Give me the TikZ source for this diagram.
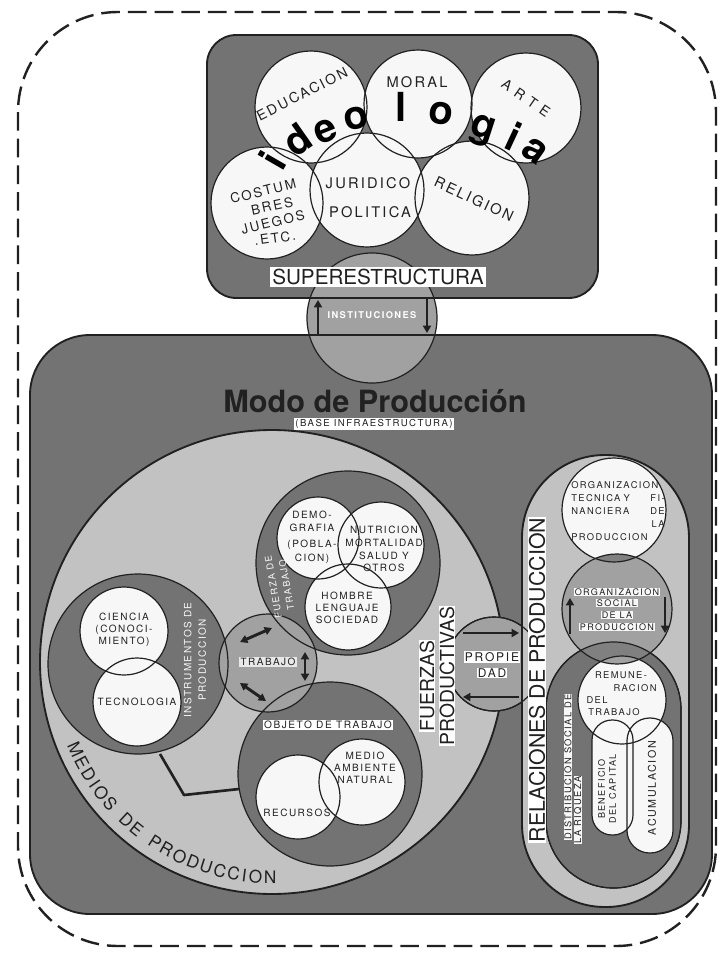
\documentclass[tikz,border=0pt]{standalone}
\usepackage{fontspec}
\setmainfont{TeX Gyre Heros}
\newfontfamily\spf[LetterSpace=15]{TeX Gyre Heros}
\usetikzlibrary{arrows.meta}
\definecolor{hatch}{gray}{0.45}
\definecolor{stip}{gray}{0.76}
\definecolor{midg}{gray}{0.63}
\definecolor{paper}{gray}{0.97}
\definecolor{ink}{gray}{0.13}
\definecolor{lensg}{gray}{0.5}
\begin{document}
\begin{tikzpicture}[x=0.75pt,y=-0.75pt,line join=round,
  ol/.style={draw=ink,line width=0.9pt},
  bol/.style={draw=ink,line width=1.4pt},
  sm/.style={text=ink,align=center,inner sep=0.5pt,font=\spf\fontsize{7.5}{10}\selectfont},
  md/.style={text=ink,align=center,inner sep=0.3pt,font=\spf\fontsize{10.5}{11.3}\selectfont},
  wb/.style={fill=white},
  mytri/.tip={Triangle[length=5.5pt,width=6pt]},
  sar/.style={draw=ink,line width=2.2pt,-mytri},
  dar/.style={draw=ink,line width=2.2pt,mytri-mytri},
  ideo/.style={text=black,inner sep=0pt,font=\bfseries\fontsize{30}{30}\selectfont},
  mletter/.style={text=ink,inner sep=0pt,font=\fontsize{13}{13}\selectfont}
]
\useasboundingbox (0,0) rectangle (720,960);
\fill[white] (0,0) rectangle (720,960);
% outer dashed frame
\draw[ink,line width=1.8pt,dash pattern=on 14pt off 6pt,rounded corners=75pt] (18,12) rectangle (716,946);

% ---------- superstructure ----------
\filldraw[fill=hatch,bol,rounded corners=22pt] (207,35) rectangle (598,298);
\foreach \n/\x/\y in {EDU/311/107,MOR/418/104,ART/526/108,COS/267/203,JUR/367/190,REL/472/198}
  \coordinate (\n) at (\x,\y);
\foreach \n/\r in {EDU/56,MOR/54,ART/55,COS/56,JUR/57,REL/57}
  \fill[paper] (\n) circle[radius=\r];
\foreach \n/\r in {EDU/56,MOR/54,ART/55,COS/56,JUR/57,REL/57}
  \draw[ol] (\n) circle[radius=\r];
\foreach \l/\x/\y/\a in {i/272/160/60,d/297/140/35,e/326/131/22,o/356/118/12,l/401/107/0,o/441/114/-8,g/482/131/-18,i/514/136/-25,a/535/151/-35}
  \node[ideo,rotate=\a] at (\x,\y) {\l};
\node[md,rotate=27] (tedu) at (302,94) {EDUCACION};
\node[md,font=\spf\fontsize{11}{12}\selectfont] (tmor) at (417,82) {MORAL};
\node[md,rotate=-35] (tart) at (526,98) {A R T E};
\node[md,rotate=14,font=\spf\fontsize{10}{11}\selectfont] (tcos1) at (263,191) {COSTUM};
\node[md,rotate=12,font=\spf\fontsize{10}{11}\selectfont] (tcos2) at (272,206) {BRES};
\node[md,rotate=14,font=\spf\fontsize{10}{11}\selectfont] (tcos3) at (273,222) {JUEGOS};
\node[md,rotate=8,font=\spf\fontsize{10}{11}\selectfont] (tcos4) at (275,238) {.ETC.};
\node[md,font=\spf\fontsize{11}{12}\selectfont] (tjur) at (368,183) {JURIDICO};
\node[md,font=\spf\fontsize{11}{12}\selectfont] (tpol) at (370,212) {POLITICA};
\node[md,rotate=-25,font=\spf\fontsize{11}{12}\selectfont] (trel) at (474,199) {RELIGION};

% ---------- modo de produccion box ----------
\filldraw[fill=hatch,bol,rounded corners=45pt] (30,335) rectangle (712,914);

% instituciones
\coordinate (INS) at (372,318);
\filldraw[fill=midg,ol] (INS) circle[radius=65];
\draw[bol] (310,298) -- (434,298);
\draw[bol] (309,335) -- (435,335);
\draw[sar] (318,335) -- (318,300);
\draw[sar] (427,298) -- (427,333);
\node[text=white,inner sep=0.5pt,font=\spf\bfseries\fontsize{7}{8}\selectfont] (tins) at (372,315) {INSTITUCIONES};
\node[wb,inner sep=1.5pt,text=ink,font=\fontsize{15.5}{16}\selectfont] (tsup) at (378,277) {SUPERESTRUCTURA};

\node[text=ink,inner sep=0pt,font=\bfseries\fontsize{23}{25}\selectfont] (tmodo) at (375,401) {Modo de Producción};
\node[wb,inner sep=0.8pt,text=ink,font=\spf\fontsize{7.2}{8}\selectfont] (tbase) at (374,424) {(BASE INFRAESTRUCTURA)};

% ---------- fuerzas productivas ----------
\coordinate (FP) at (272,662);
\filldraw[fill=stip,bol] (FP) circle[radius=232];

% propiedad and relaciones pill
\coordinate (PRO) at (494,664);
\filldraw[fill=midg,ol] (PRO) circle[radius=47];
\filldraw[fill=stip,bol,rounded corners=62pt] (522,455) rectangle (689,907);
\draw[ol] (PRO) circle[radius=47];

% hatched circles
\coordinate (INSTR) at (138,664);
\coordinate (FT) at (348,563);
\coordinate (OBJ) at (330,774);
\coordinate (TRAB) at (268,663);
\foreach \n/\r in {INSTR/90,FT/92,OBJ/92} \fill[hatch] (\n) circle[radius=\r];
\fill[midg] (TRAB) circle[radius=49];
\foreach \n/\x/\y in {CIEN/124/631,TECN/137/702,DEMO/318/538,NUTR/381/545,HOMB/348/607,RECU/298/797,MEDIO/362/782}
  \coordinate (\n) at (\x,\y);
\foreach \n/\r in {CIEN/44,TECN/44,DEMO/41,NUTR/43,HOMB/43,RECU/42,MEDIO/43}
  \fill[paper] (\n) circle[radius=\r];
\foreach \n/\r in {INSTR/90,FT/92,OBJ/92,TRAB/49,CIEN/44,TECN/44,DEMO/41,NUTR/43,HOMB/43,RECU/42,MEDIO/43}
  \draw[ol] (\n) circle[radius=\r];

% connector between instrumentos and objeto
\coordinate (k1) at (160,754);
\coordinate (k2) at (184,795);
\coordinate (k3) at (239,789);
\draw[ink,line width=2pt] (k1) -- (k2) -- (k3);

% trabajo arrows
\draw[dar] (240,642) -- (272,628);
\draw[dar] (305,652) -- (305,681);
\draw[dar] (240,683) -- (266,701);

% propiedad arrows
\draw[sar] (463,633) -- (519,633);
\draw[sar] (519,697) -- (463,697);

% ---------- relaciones de produccion ----------
\filldraw[fill=hatch,ol,rounded corners=50.5pt] (546,642) rectangle (681,888);
\coordinate (OTEC) at (614,510);
\coordinate (OSOC) at (617,609);
\coordinate (REMU) at (622,700);
\fill[paper] (OTEC) circle[radius=52];
\fill[midg] (OSOC) circle[radius=55];
\begin{scope}
  \clip (OTEC) circle[radius=52];
  \fill[lensg] (OSOC) circle[radius=55];
\end{scope}
\begin{scope}
  \clip[rounded corners=50.5pt] (546,642) rectangle (681,888);
  \fill[lensg] (OSOC) circle[radius=55];
\end{scope}
\fill[paper] (REMU) circle[radius=44];
\begin{scope}
  \clip (REMU) circle[radius=44];
  \fill[midg] (OSOC) circle[radius=55];
\end{scope}
\fill[paper,rounded corners=15pt] (592,720) rectangle (633,835);
\fill[paper,rounded corners=17pt] (627,718) rectangle (673,853);
\draw[ol] (OTEC) circle[radius=52];
\draw[ol] (OSOC) circle[radius=55];
\draw[ol] (REMU) circle[radius=44];
\draw[ol,rounded corners=15pt] (592,720) rectangle (633,835);
\draw[ol,rounded corners=17pt] (627,718) rectangle (673,853);
\draw[ol,rounded corners=50.5pt] (546,642) rectangle (681,888);
\draw[sar] (570,634) -- (570,598);
\draw[sar] (665,597) -- (665,633);

% ---------- labels in the lower part ----------
\node[sm] (tdemo) at (312,537) {DEMO-\\GRAFIA\\[2pt](POBLA-\\CION)};
\node[sm,font=\spf\fontsize{7.5}{9.6}\selectfont] (tnut) at (384,549) {NUTRICION\\MORTALIDAD\\SALUD Y\\OTROS};
\node[sm,font=\spf\fontsize{7.5}{9}\selectfont] (thom) at (347,608) {HOMBRE\\LENGUAJE\\SOCIEDAD};
\node[sm,font=\spf\fontsize{7.5}{9}\selectfont] (tcie) at (124,630) {CIENCIA\\(CONOCI-\\MIENTO)};
\node[sm] (ttec) at (137,702) {TECNOLOGIA};
\node[sm,text=paper,rotate=90,font=\spf\fontsize{7.5}{11}\selectfont] (tins2) at (195,660) {INSTRUMENTOS DE\\PRODUCCION};
\node[sm,text=paper,rotate=100,font=\spf\fontsize{7}{10}\selectfont] (tft) at (280,586) {FUERZA DE\\TRABAJO};
\node[sm,fill=gray!18,inner sep=1pt] (ttrab) at (268,662) {TRABAJO};
\node[sm,wb,inner sep=1pt,font=\spf\fontsize{7.6}{9}\selectfont] (tobj) at (328,725) {OBJETO DE TRABAJO};
\node[sm] (trec) at (297,813) {RECURSOS};
\node[sm,font=\spf\fontsize{7.5}{8.8}\selectfont] (tmed) at (365,768) {MEDIO\\AMBIENTE\\NATURAL};
\node[wb,rotate=90,inner sep=0.5pt,text=ink,font=\fontsize{14.5}{15}\selectfont] (tfue) at (427,686) {FUERZAS};
\node[wb,rotate=90,inner sep=0.5pt,text=ink,font=\fontsize{14.5}{15}\selectfont] (tpro) at (447,676) {PRODUCTIVAS};
\node[sm,wb,inner sep=0.8pt,font=\spf\fontsize{9}{10}\selectfont] (tprop1) at (492,657) {PROPIE};
\node[sm,wb,inner sep=0.8pt,font=\spf\fontsize{9}{10}\selectfont] (tprop2) at (492,673) {DAD};
\foreach \ch/\th in {M/204,E/207.9,D/211.5,I/214.4,O/217.4,S/221.2,D/227.4,E/231.0,P/237.1,R/240.7,O/244.6,D/248.5,U/252.2,C/256.0,C/259.7,I/262.6,O/265.6,N/269.5}
  \node[mletter,rotate=\th+90] at ({272+215*cos(\th)},{662-215*sin(\th)}) {\ch};

\node[wb,rotate=90,inner sep=0.5pt,text=ink,font=\fontsize{16}{17}\selectfont] (trel2) at (537,680) {RELACIONES DE PRODUCCION};
\node[sm,font=\spf\fontsize{7}{9.8}\selectfont,text width=70pt,align=left] (totec) at (618,511)
  {ORGANIZACION\\TECNICA Y\hfill FI-\\NANCIERA\hfill DE\\\mbox{}\hfill LA\\PRODUCCION};
\foreach \t/\y in {ORGANIZACION/592,SOCIAL/603,DE LA/615,PRODUCCION/627}
  \node[sm,fill=paper,inner sep=0.4pt,font=\spf\fontsize{6.8}{8}\selectfont] at (617,\y) {\t};
\node[sm,font=\spf\fontsize{7}{8}\selectfont] (tre1) at (621,675) {REMUNE-};
\node[sm,font=\spf\fontsize{7}{8}\selectfont] (tre2) at (635,688) {RACION};
\node[sm,font=\spf\fontsize{7}{8}\selectfont] (tre3) at (597,700) {DEL};
\node[sm,font=\spf\fontsize{7}{8}\selectfont] (tre4) at (614,712) {TRABAJO};
\node[sm,fill=paper,inner sep=0.4pt,rotate=90,font=\spf\fontsize{7}{8}\selectfont] (tdis1) at (568,767) {DISTRIBUCION SOCIAL DE};
\node[sm,fill=paper,inner sep=0.4pt,rotate=90,font=\spf\fontsize{7}{8}\selectfont] (tdis2) at (578,810) {LA RIQUEZA};
\node[sm,rotate=90,font=\spf\fontsize{6.8}{8.3}\selectfont] (tben) at (607,789) {BENEFICIO\\DEL CAPITAL};
\node[sm,rotate=90,font=\spf\fontsize{8}{9}\selectfont] (tacu) at (652,788) {ACUMULACION};
\end{tikzpicture}
\end{document}
